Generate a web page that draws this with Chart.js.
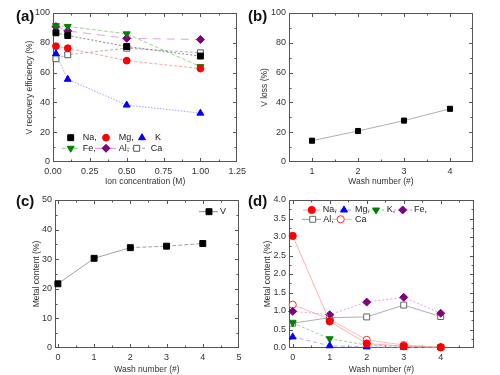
<!DOCTYPE html>
<html><head><meta charset="utf-8">
<script src="https://cdn.jsdelivr.net/npm/chart.js@4.4.1/dist/chart.umd.min.js"></script>
<style>
html,body{margin:0;padding:0;background:#fff;width:500px;height:375px;overflow:hidden;}
canvas{position:absolute;}
.lbl{position:absolute;font:bold 15px "Liberation Sans",Arial,sans-serif;color:#111;line-height:15px;}
</style></head><body>
<canvas id="ca" width="250" height="187" style="left:0;top:0"></canvas>
<canvas id="cb" width="250" height="187" style="left:250px;top:0"></canvas>
<canvas id="cc" width="250" height="188" style="left:0;top:187px"></canvas>
<canvas id="cd" width="250" height="188" style="left:250px;top:187px"></canvas>
<div class="lbl" style="left:16px;top:8px">(a)</div>
<div class="lbl" style="left:248px;top:8px">(b)</div>
<div class="lbl" style="left:16px;top:193px">(c)</div>
<div class="lbl" style="left:248px;top:193px">(d)</div>
<script>
// ---- Panel (a): V recovery efficiency vs ion concentration ----
const ionConc = [0.02, 0.1, 0.5, 1.0];
const recNa = [86.7, 84.9, 77.5, 71.1];
const recMg = [77.7, 76.4, 68.0, 62.7];
const recK  = [72.7, 55.5, 38.2, 32.8];
const recFe = [91.5, 91.0, 86.0, 64.0];
const recAl = [90.9, 88.0, 83.0, 82.2];
const recCa = [69.3, 72.0, 76.4, 73.3];
const ticksAX = [0, 0.25, 0.5, 0.75, 1.0, 1.25];
const ticksAY = [0, 20, 40, 60, 80, 100];
// ---- Panel (b): V loss vs wash number ----
const washB = [1, 2, 3, 4];
const vLoss = [14.3, 20.8, 27.8, 35.7];
const ticksBX = [1, 2, 3, 4];
const ticksBY = [0, 20, 40, 60, 80, 100];
// ---- Panel (c): V metal content vs wash number ----
const washC = [0, 1, 2, 3, 4];
const vContent = [21.7, 30.3, 33.9, 34.4, 35.3];
const ticksCX = [0, 1, 2, 3, 4, 5];
const ticksCY = [0, 10, 20, 30, 40, 50];
// ---- Panel (d): impurity metal content vs wash number ----
const washD = [0, 1, 2, 3, 4];
const mNa = [3.03, 0.72, 0.12, 0.05, 0.02];
const mMg = [0.30, 0.06, 0.03, 0.02, 0.01];
const mK  = [0.68, 0.25, 0.08, 0.05, 0.03];
const mFe = [0.99, 0.90, 1.24, 1.37, 0.94];
const mAl = [0.67, 0.82, 0.84, 1.16, 0.85];
const mCa = [1.17, 0.78, 0.22, 0.08, 0.02];
const ticksDX = [0, 1, 2, 3, 4];
const ticksDY = [0, 0.5, 1.0, 1.5, 2.0, 2.5, 3.0, 3.5, 4.0];

Chart.defaults.font.family = '"Liberation Sans", Arial, sans-serif';
Chart.defaults.color = '#333';

function pts(xs, ys) { return xs.map((x, i) => ({x: x, y: ys[i]})); }
function ds(label, xs, ys, st) {
  return Object.assign({label: label, data: pts(xs, ys), fill: false, clip: false, tension: 0,
    borderWidth: 0.8, pointBorderWidth: 1}, st);
}

function drawMarker(ctx, ds, x, y) {
  ctx.save();
  ctx.fillStyle = ds.pointBackgroundColor;
  ctx.strokeStyle = ds.pointBorderColor;
  ctx.lineWidth = ds.pointBorderWidth;
  ctx.setLineDash([]);
  if (Chart.helpers && Chart.helpers.drawPoint) {
    Chart.helpers.drawPoint(ctx, {pointStyle: ds.pointStyle, rotation: ds.pointRotation || 0,
      radius: ds.pointRadius, borderWidth: ds.pointBorderWidth}, x, y);
  } else {
    ctx.beginPath(); ctx.arc(x, y, ds.pointRadius, 0, Math.PI * 2); ctx.fill(); ctx.stroke();
  }
  ctx.restore();
}

const framePlugin = {
  id: 'frame',
  beforeDatasetsDraw(chart, args, o) {
    const ctx = chart.ctx, a = chart.chartArea, xs = chart.scales.x, ys = chart.scales.y;
    const L = Math.round(a.left) + 0.5, R = Math.round(a.right) - 0.5;
    const T = Math.round(a.top) + 0.5, B = Math.round(a.bottom) - 0.5;
    ctx.save();
    ctx.strokeStyle = '#555'; ctx.lineWidth = 1;
    ctx.strokeRect(L, T, R - L, B - T);
    ctx.beginPath();
    const ticks = (scale, minor, major, cb) => {
      const start = Math.ceil(scale.min / minor - 1e-6);
      for (let k = start; k * minor <= scale.max + 1e-9; k++) {
        const v = k * minor;
        const isMaj = Math.abs(v / major - Math.round(v / major)) < 1e-6;
        cb(scale.getPixelForValue(v), isMaj ? 3.5 : 2);
      }
    };
    ticks(xs, o.xMinor, o.xMajor, (p, len) => {
      if (p < L + 1 || p > R - 1) return;
      p = Math.round(p) + 0.5;
      ctx.moveTo(p, B); ctx.lineTo(p, B - len);
      ctx.moveTo(p, T); ctx.lineTo(p, T + len);
    });
    ticks(ys, o.yMinor, o.yMajor, (p, len) => {
      if (p < T + 1 || p > B - 1) return;
      p = Math.round(p) + 0.5;
      ctx.moveTo(L, p); ctx.lineTo(L + len, p);
      ctx.moveTo(R, p); ctx.lineTo(R - len, p);
    });
    ctx.stroke();
    ctx.restore();
  }
};

const legendPlugin = {
  id: 'inLegend',
  afterDraw(chart, args, o) {
    if (!o.items) return;
    const ctx = chart.ctx;
    ctx.save();
    o.items.forEach(it => {
      const d = chart.data.datasets[it.ds];
      if (it.line) {
        ctx.save();
        ctx.strokeStyle = d.borderColor; ctx.lineWidth = 1;
        ctx.setLineDash(d.borderDash || []);
        ctx.beginPath(); ctx.moveTo(it.line[0], it.y); ctx.lineTo(it.line[1], it.y); ctx.stroke();
        ctx.restore();
      }
      drawMarker(ctx, d, it.mx, it.y);
      ctx.fillStyle = '#222';
      ctx.font = '9px "Liberation Sans", Arial, sans-serif';
      ctx.textBaseline = 'middle'; ctx.textAlign = 'left';
      ctx.fillText(d.label + (it.comma ? ',' : ''), it.tx, it.y);
    });
    ctx.restore();
  }
};

function axes(c) {
  const tf = {size: 9}, ttf = {size: 8.5};
  return {
    x: {type: 'linear', min: c.xmin, max: c.xmax,
      afterFit: s => { s.height = c.xh; },
      afterBuildTicks: s => { s.ticks = c.xt.map(v => ({value: v})); },
      grid: {display: false, drawTicks: false}, border: {display: false},
      ticks: {padding: 4, autoSkip: false, maxRotation: 0, font: tf, color: '#333',
        callback: c.xfmt || (v => String(v))},
      title: {display: true, text: c.xtitle, font: ttf, color: '#333', padding: {top: 0, bottom: 0}}},
    y: {type: 'linear', min: c.ymin, max: c.ymax,
      afterFit: s => { s.width = c.yw; },
      afterBuildTicks: s => { s.ticks = c.yt.map(v => ({value: v})); },
      grid: {display: false, drawTicks: false}, border: {display: false},
      ticks: {padding: 3, autoSkip: false, font: tf, color: '#333',
        callback: c.yfmt || (v => String(v))},
      title: {display: true, text: c.ytitle, font: ttf, color: '#333', padding: {top: c.ytp, bottom: 0}}}
  };
}

function make(id, datasets, pad, ax, frame, legendItems) {
  return new Chart(document.getElementById(id), {
    type: 'line',
    data: {datasets: datasets},
    options: {
      responsive: false, animation: false, events: [],
      layout: {padding: pad},
      plugins: {legend: {display: false}, tooltip: {enabled: false},
        frame: frame, inLegend: {items: legendItems}},
      scales: axes(ax)
    },
    plugins: [framePlugin, legendPlugin]
  });
}

// ---------- (a) ----------
const dsA = [
  ds('Na', ionConc, recNa, {borderColor: '#6a6a6a', borderDash: [2, 2], pointStyle: 'rect', pointRadius: 4.2, pointBackgroundColor: '#000', pointBorderColor: '#000'}),
  ds('Mg', ionConc, recMg, {borderColor: '#ff8a8a', borderDash: [3, 2], pointStyle: 'circle', pointRadius: 3.4, pointBackgroundColor: '#ff0000', pointBorderColor: '#ff0000'}),
  ds('K', ionConc, recK, {borderColor: '#8a8aff', borderDash: [1.5, 1.5], pointStyle: 'triangle', pointRadius: 4, pointBackgroundColor: '#0000ff', pointBorderColor: '#0000ff'}),
  ds('Fe', ionConc, recFe, {borderColor: '#80cc80', borderDash: [4, 2], pointStyle: 'triangle', pointRotation: 180, pointRadius: 4, pointBackgroundColor: '#008000', pointBorderColor: '#008000'}),
  ds('Al', ionConc, recAl, {borderColor: '#e08ae0', borderDash: [8, 6], pointStyle: 'rectRot', pointRadius: 4, pointBackgroundColor: '#800080', pointBorderColor: '#800080'}),
  ds('Ca', ionConc, recCa, {borderColor: '#a0a0a0', borderDash: [3, 2], pointStyle: 'rect', pointRadius: 4.2, pointBackgroundColor: '#ffffff', pointBorderColor: '#555'})
];
make('ca', dsA, {left: 0, right: 10, top: 13, bottom: 0},
  {xmin: 0, xmax: 1.25, xt: ticksAX, xfmt: v => v.toFixed(2), xh: 25, xtitle: 'Ion concentration (M)',
   ymin: 0, ymax: 100, yt: ticksAY, yw: 53, ytp: 25, ytitle: 'V recovery efficiency (%)'},
  {xMinor: 0.125, xMajor: 0.25, yMinor: 10, yMajor: 20},
  [
    {ds: 0, mx: 70.7, y: 137.7, tx: 82.7, comma: true},
    {ds: 1, mx: 106, y: 137.7, tx: 118.7, comma: true},
    {ds: 2, mx: 142, y: 137.7, tx: 155},
    {ds: 3, mx: 70.7, y: 148.3, tx: 82.7, comma: true, line: [61.7, 80]},
    {ds: 4, mx: 106, y: 148.3, tx: 118.7, comma: true, line: [95, 116]},
    {ds: 5, mx: 136.7, y: 148.3, tx: 150.7, line: [127, 147]}
  ]);

// ---------- (b) ----------
const dsB = [
  ds('V', washB, vLoss, {borderColor: '#9a9a9a', pointStyle: 'rect', pointRadius: 3.6, pointBackgroundColor: '#000', pointBorderColor: '#000'})
];
make('cb', dsB, {left: 0, right: 27, top: 13, bottom: 0},
  {xmin: 0.5, xmax: 4.5, xt: ticksBX, xh: 25, xtitle: 'Wash number (#)',
   ymin: 0, ymax: 100, yt: ticksBY, yw: 39, ytp: 10, ytitle: 'V loss (%)'},
  {xMinor: 0.5, xMajor: 1, yMinor: 10, yMajor: 20}, null);

// ---------- (c) ----------
const dsC = [
  ds('V', washC, vContent, {borderColor: '#8a8a8a', pointStyle: 'rect', pointRadius: 4.2, pointBackgroundColor: '#000', pointBorderColor: '#000',
    segment: {borderDash: ctx => ctx.p0DataIndex >= 2 ? [4, 2] : undefined}})
];
make('cc', dsC, {left: 0, right: 11, top: 13, bottom: 0},
  {xmin: -0.08, xmax: 5, xt: ticksCX, xh: 27, xtitle: 'Wash number (#)',
   ymin: 0, ymax: 50, yt: ticksCY, yw: 55, ytp: 32, ytitle: 'Metal content (%)'},
  {xMinor: 0.5, xMajor: 1, yMinor: 5, yMajor: 10},
  [{ds: 0, mx: 209, y: 24.7, tx: 220, line: [199, 218]}]);

// ---------- (d) ----------
const dsD = [
  ds('Na', washD, mNa, {borderColor: '#ff9a9a', pointStyle: 'circle', pointRadius: 3.6, pointBackgroundColor: '#ff0000', pointBorderColor: '#ff0000'}),
  ds('Mg', washD, mMg, {borderColor: '#9a9aff', borderDash: [4, 3], pointStyle: 'triangle', pointRadius: 4, pointBackgroundColor: '#0000ff', pointBorderColor: '#0000ff'}),
  ds('K', washD, mK, {borderColor: '#80c880', borderDash: [3, 2], pointStyle: 'triangle', pointRotation: 180, pointRadius: 4, pointBackgroundColor: '#008000', pointBorderColor: '#008000'}),
  ds('Fe', washD, mFe, {borderColor: '#e08ae0', borderDash: [2, 2], pointStyle: 'rectRot', pointRadius: 4, pointBackgroundColor: '#800080', pointBorderColor: '#800080'}),
  ds('Al', washD, mAl, {borderColor: '#9a9a9a', pointStyle: 'rect', pointRadius: 4.2, pointBackgroundColor: '#ffffff', pointBorderColor: '#666'}),
  ds('Ca', washD, mCa, {borderColor: '#ffaaaa', pointStyle: 'circle', pointRadius: 3.6, pointBackgroundColor: '#ffffff', pointBorderColor: '#ff3030'})
];
make('cd', dsD, {left: 0, right: 26, top: 13, bottom: 0},
  {xmin: -0.1, xmax: 4.9, xt: ticksDX, xh: 27, xtitle: 'Wash number (#)',
   ymin: 0, ymax: 4, yt: ticksDY, yfmt: v => v.toFixed(1), yw: 39, ytp: 13, ytitle: 'Metal content (%)'},
  {xMinor: 0.5, xMajor: 1, yMinor: 0.25, yMajor: 0.5},
  [
    {ds: 0, mx: 61.7, y: 23, tx: 72.7, comma: true, line: [53, 70]},
    {ds: 1, mx: 94, y: 23, tx: 105, comma: true, line: [83, 102]},
    {ds: 2, mx: 126, y: 23, tx: 136.7, comma: true, line: [116.7, 134]},
    {ds: 3, mx: 152.7, y: 23, tx: 164, comma: true, line: [144, 162]},
    {ds: 4, mx: 62.7, y: 32.3, tx: 73.3, comma: true, line: [52, 71]},
    {ds: 5, mx: 90.7, y: 32.3, tx: 105, line: [81.7, 102]}
  ]);
</script>
</body></html>
